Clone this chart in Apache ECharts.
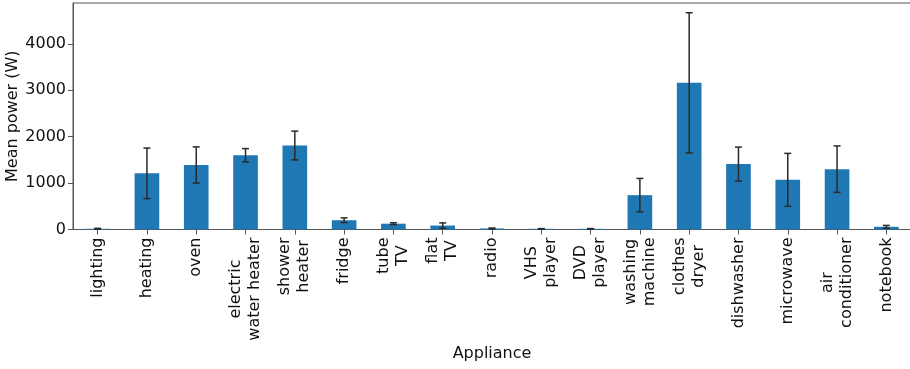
<!DOCTYPE html>
<html>
<head>
<meta charset="utf-8">
<script src="https://cdn.jsdelivr.net/npm/echarts@6/dist/echarts.min.js"></script>
<style>
  html, body { margin: 0; padding: 0; background: #fff; }
  #chart { width: 910px; height: 369px; }
</style>
</head>
<body>
<div id="chart"></div>
<script>
// Appliances and their mean power draw, with one standard deviation as error bars
const appliances = [
  "lighting", "heating", "oven", "electric\nwater heater", "shower\nheater",
  "fridge", "tube\nTV", "flat\nTV", "radio", "VHS\nplayer", "DVD\nplayer",
  "washing\nmachine", "clothes\ndryer", "dishwasher", "microwave",
  "air\nconditioner", "notebook"
];
const meanPower = [15, 1210, 1390, 1600, 1810, 200, 125, 85, 22, 15, 15, 740, 3160, 1410, 1070, 1300, 58];
const powerStd  = [10, 545, 390, 143, 310, 50, 20, 57, 10, 5, 5, 360, 1510, 366, 570, 500, 30];
const yTicks = [0, 1000, 2000, 3000, 4000];

const FONT = "DejaVu Sans";
const TEXT = "#111";

const errorData = meanPower.map((v, i) => [i, v, powerStd[i]]);

const chart = echarts.init(document.getElementById("chart"), null, { renderer: "canvas" });

chart.setOption({
  animation: false,
  backgroundColor: "#fff",
  grid: {
    left: 73, top: 3, width: 838, height: 226.5,
    outerBoundsMode: "none",
    containLabel: false,
    show: true, borderColor: "#555", borderWidth: 1, backgroundColor: "transparent"
  },
  xAxis: {
    type: "category",
    data: appliances,
    name: "Appliance",
    nameLocation: "middle",
    nameGap: 116,
    nameMoveOverlap: false,
    nameTextStyle: { fontFamily: FONT, fontSize: 16, color: TEXT },
    axisLine: { show: true, lineStyle: { color: "#555", width: 1 } },
    axisTick: { show: true, alignWithLabel: true, length: 5, lineStyle: { color: "#555" } },
    axisLabel: {
      interval: 0,
      rotate: 90,
      margin: 8,
      fontFamily: FONT,
      fontSize: 16,
      color: TEXT,
      lineHeight: 19,
      formatter: (v) => v.split("\n").map(s => "{c|" + s + "}").join("\n"),
      rich: {
        c: { align: "center", fontFamily: FONT, fontSize: 16, color: TEXT, lineHeight: 19 }
      }
    },
    splitLine: { show: false }
  },
  yAxis: {
    type: "value",
    min: 0,
    max: 4880,
    interval: 1000,
    name: "Mean power (W)",
    nameLocation: "middle",
    nameGap: 52,
    nameMoveOverlap: false,
    nameTextStyle: { fontFamily: FONT, fontSize: 16, color: TEXT },
    axisLine: { show: true, lineStyle: { color: "#555", width: 1 } },
    axisTick: { show: true, length: 5, lineStyle: { color: "#555" }, customValues: yTicks },
    axisLabel: {
      margin: 7, fontFamily: FONT, fontSize: 16, color: TEXT, customValues: yTicks,
      formatter: (v) => String(v)
    },
    splitLine: { show: false }
  },
  series: [
    {
      type: "bar",
      data: meanPower,
      barWidth: "50%",
      itemStyle: { color: "#1f77b4" },
      z: 2
    },
    {
      type: "custom",
      data: errorData,
      encode: { x: 0, y: 1 },
      z: 3,
      renderItem: (params, api) => {
        const idx = api.value(0);
        const v = api.value(1);
        const e = api.value(2);
        const hi = api.coord([idx, v + e]);
        const lo = api.coord([idx, Math.max(0, v - e)]);
        const cap = 3.5;
        const style = { stroke: "#2a2a2a", lineWidth: 1.5 };
        return {
          type: "group",
          children: [
            { type: "line", shape: { x1: hi[0], y1: hi[1], x2: lo[0], y2: lo[1] }, style },
            { type: "line", shape: { x1: hi[0] - cap, y1: hi[1], x2: hi[0] + cap, y2: hi[1] }, style },
            { type: "line", shape: { x1: lo[0] - cap, y1: lo[1], x2: lo[0] + cap, y2: lo[1] }, style }
          ]
        };
      }
    }
  ]
});
</script>
</body>
</html>
